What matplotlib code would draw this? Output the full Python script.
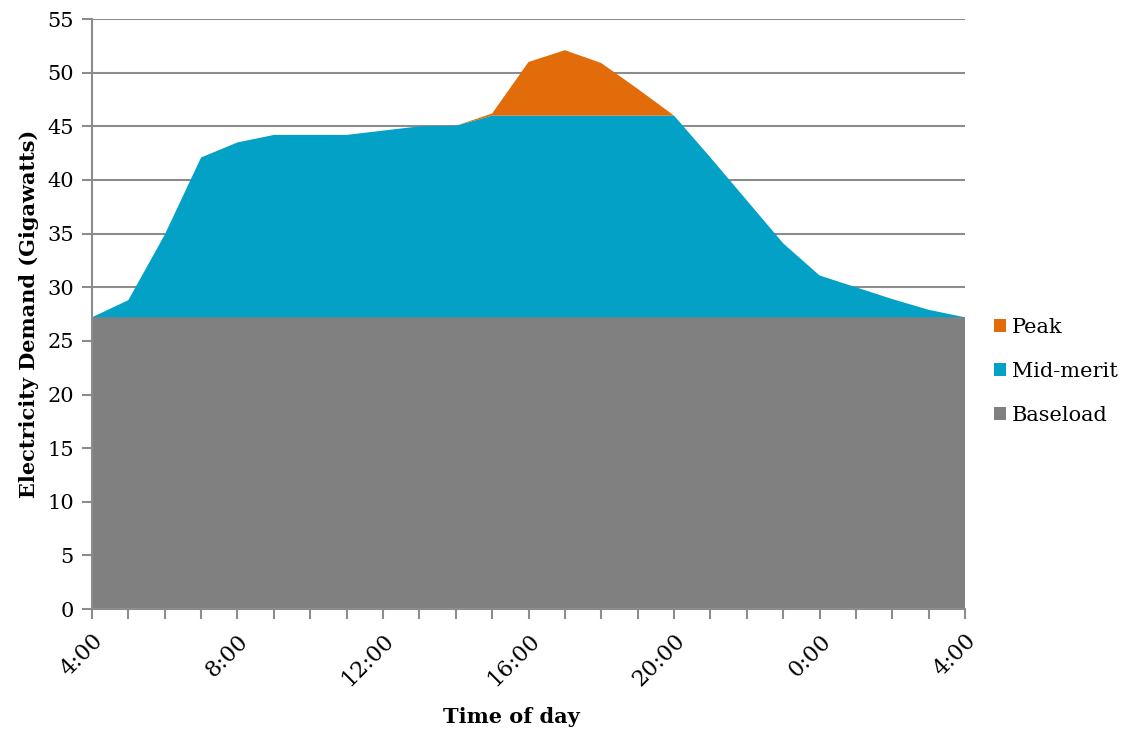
import numpy as np
import matplotlib.pyplot as plt

hours = np.arange(0, 25)  # hours after 4:00
baseload = [27.2] * 25
total_mid = [27.2, 28.8, 34.9, 42.1, 43.5, 44.2, 44.2, 44.2, 44.6, 45.0,
             45.05, 46.0, 46.0, 46.0, 46.0, 46.0, 46.0, 42.1, 38.1, 34.1,
             31.1, 30.0, 28.9, 27.9, 27.2]
total_peak = [27.2, 28.8, 34.9, 42.1, 43.5, 44.2, 44.2, 44.2, 44.6, 45.0,
              45.05, 46.2, 51.0, 52.1, 50.9, 48.5, 46.0, 42.1, 38.1, 34.1,
              31.1, 30.0, 28.9, 27.9, 27.2]
tick_labels = ["4:00", "8:00", "12:00", "16:00", "20:00", "0:00", "4:00"]

base = np.array(baseload)
mid = np.array(total_mid) - base
peak = np.array(total_peak) - np.array(total_mid)

plt.rcParams['font.family'] = ['DejaVu Serif']

fig = plt.figure(figsize=(11.27, 7.33), dpi=100)
ax = fig.add_axes([0.0816, 0.169, 0.7747, 0.805])

ax.stackplot(hours, base, mid, peak,
             colors=["#808080", "#03A1C6", "#E36C0A"],
             labels=["Baseload", "Mid-merit", "Peak"], zorder=2)

ax.set_xlim(0, 24)
ax.set_ylim(0, 55)
ax.set_yticks(np.arange(0, 56, 5))
ax.set_xticks(np.arange(0, 25, 4))
ax.set_xticks(np.arange(0, 25, 1), minor=True)
ax.set_xticklabels(tick_labels, rotation=45, ha='right', rotation_mode='anchor')

ax.grid(axis='y', color='#8c8c8c', linewidth=1.5, zorder=1)
ax.set_axisbelow(True)
for s in ['top', 'right']:
    ax.spines[s].set_visible(False)
for s in ['left', 'bottom']:
    ax.spines[s].set_color('#8c8c8c')
    ax.spines[s].set_linewidth(1.5)

ax.tick_params(axis='y', labelsize=15, length=7, width=1.5, color='#8c8c8c', pad=6)
ax.tick_params(axis='x', which='both', length=7, width=1.5, color='#8c8c8c')
ax.tick_params(axis='x', labelsize=16, pad=8)

ax.set_ylabel("Electricity Demand (Gigawatts)", fontsize=15, fontweight='bold', labelpad=6)
ax.set_xlabel("Time of day", fontsize=15, fontweight='bold')
ax.xaxis.set_label_coords(0.48, -0.166)

handles, labels = ax.get_legend_handles_labels()
ax.legend(handles[::-1], labels[::-1], loc='center left', bbox_to_anchor=(1.012, 0.403),
          frameon=False, fontsize=15, handlelength=0.55, handleheight=0.55,
          handletextpad=0.3, labelspacing=1.2)

fig.savefig("out.png", dpi=100)
